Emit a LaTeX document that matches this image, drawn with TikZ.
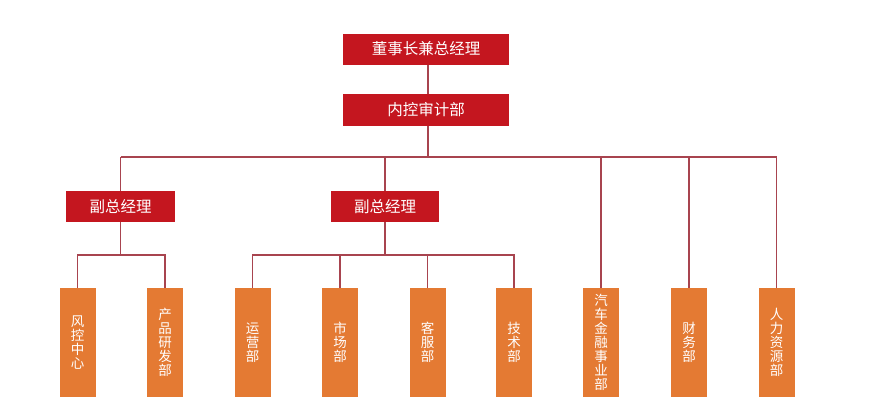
\documentclass[tikz,border=0pt]{standalone}
\usepackage{fontspec}
\setmainfont{Noto Sans CJK SC}
\definecolor{boxred}{HTML}{C4161F}
\definecolor{boxorange}{HTML}{E47A33}
\definecolor{linkred}{HTML}{A8444F}
\tikzset{
  redbox/.style={fill=boxred, text=white, inner sep=0pt, minimum height=31pt, font=\fontsize{15.5pt}{17pt}\selectfont},
  deptbox/.style={fill=boxorange, text=white, inner sep=0pt, minimum width=36pt, minimum height=109pt, align=center, font=\fontsize{13.5pt}{14pt}\selectfont},
  link/.style={draw=linkred, line width=1.1pt}
}
\begin{document}
\begin{tikzpicture}[x=1pt,y=-1pt]
\useasboundingbox (0,0) rectangle (869,400);
\node[redbox, minimum width=166pt] (ceo) at (426,49) {董事长兼总经理};
\node[redbox, minimum width=166pt, minimum height=32pt] (audit) at (426,110) {内控审计部};
\node[redbox, minimum width=109pt] (vp1) at (120.5,206.5) {副总经理};
\node[redbox, minimum width=108pt] (vp2) at (385,206.5) {副总经理};
\node[deptbox] (d1) at (77.5,342.5) {风\\控\\中\\心};
\node[deptbox] (d2) at (165,342.5) {产\\品\\研\\发\\部};
\node[deptbox] (d3) at (252.5,342.5) {运\\营\\部};
\node[deptbox] (d4) at (340,342.5) {市\\场\\部};
\node[deptbox] (d5) at (427.5,342.5) {客\\服\\部};
\node[deptbox] (d6) at (514,342.5) {技\\术\\部};
\node[deptbox] (d7) at (601,342.5) {汽\\车\\金\\融\\事\\业\\部};
\node[deptbox] (d8) at (689,342.5) {财\\务\\部};
\node[deptbox] (d9) at (776.5,342.5) {人\\力\\资\\源\\部};
\coordinate (j0) at (428,157);
\coordinate (j1) at (120.5,255);
\coordinate (j2) at (385,255);
\draw[link] (ceo.south -| j0) -- (audit.north -| j0);
\draw[link] (audit.south -| j0) -- (j0);
\draw[link] (vp1.north |- j0) -- (d9.north |- j0);
\draw[link] (vp1.north) -- (vp1.north |- j0);
\draw[link] (vp2.north) -- (vp2.north |- j0);
\draw[link] (d7.north) -- (d7.north |- j0);
\draw[link] (d8.north) -- (d8.north |- j0);
\draw[link] (d9.north) -- (d9.north |- j0);
\draw[link] (vp1.south) -- (j1);
\draw[link] (d1.north) |- (j1) -| (d2.north);
\draw[link] (vp2.south) -- (j2);
\draw[link] (d3.north) |- (j2) -| (d6.north);
\draw[link] (d4.north) -- (d4.north |- j2);
\draw[link] (d5.north) -- (d5.north |- j2);
\end{tikzpicture}
\end{document}
